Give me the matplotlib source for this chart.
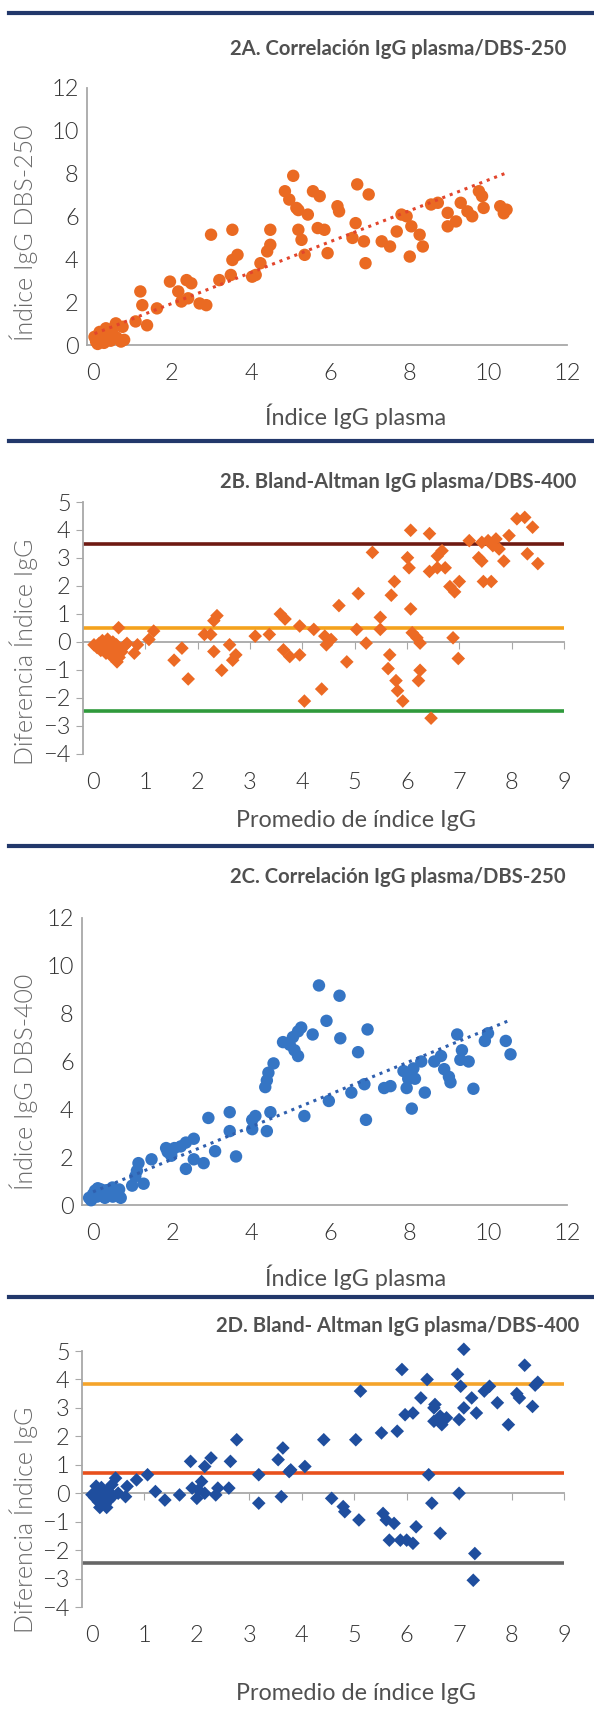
import numpy as np
import matplotlib
matplotlib.use("Agg")
import matplotlib.pyplot as plt
from matplotlib.lines import Line2D

# ---------------- data ----------------
titles = ["2A. Correlación IgG plasma/DBS-250",
          "2B. Bland-Altman IgG plasma/DBS-400",
          "2C. Correlación IgG plasma/DBS-250",
          "2D. Bland- Altman IgG plasma/DBS-400"]
xlabels = ["Índice IgG plasma", "Promedio de índice IgG",
           "Índice IgG plasma", "Promedio de índice IgG"]
ylabels = ["Índice IgG DBS-250", "Diferencia Índice IgG",
           "Índice IgG DBS-400", "Diferencia Índice IgG"]

a_x = [5.07, 4.86, 4.97, 5.15, 5.2, 5.44, 5.57, 5.74, 6.19, 6.23, 6.69, 6.98, 6.65, 5.69, 5.86, 5.2,
       5.28, 4.49, 3.53, 2.99, 4.49, 4.41, 3.66, 3.53, 4.24, 4.12, 4.03, 3.49, 3.2, 5.36, 5.94, 6.57,
       6.86, 6.9, 7.31, 7.52, 7.69, 7.81, 7.94, 8.06, 8.27, 8.35, 8.02, 8.56, 8.73, 8.98, 8.98, 9.19,
       9.31, 9.48, 9.6, 9.77, 9.85, 9.89, 10.31, 10.47, 10.4,
       1.95, 2.37, 2.49, 2.16, 2.24, 2.41, 2.7, 2.87, 1.2, 1.25, 1.62, 1.08, 1.37, 0.58, 0.75, 0.33,
       0.17, 0.04, 0.08, 0.33, 0.5, 0.71, 0.79, 0.25, 0.42, 0.12, 0.2, 0.28, 0.15, 0.38, 0.6, 0.45]
a_y = [7.9, 7.18, 6.79, 6.4, 6.3, 6.09, 7.18, 6.95, 6.48, 6.24, 7.5, 7.03, 5.69, 5.46, 5.38, 5.38,
       4.91, 5.38, 5.38, 5.15, 4.68, 4.37, 4.21, 3.97, 3.82, 3.27, 3.19, 3.27, 3.03, 4.21, 4.29, 5.0,
       4.84, 3.82, 4.84, 4.6, 5.3, 6.09, 6.01, 5.54, 5.15, 4.6, 4.13, 6.56, 6.64, 6.17, 5.54, 5.77,
       6.64, 6.24, 6.01, 7.18, 6.95, 6.4, 6.48, 6.32, 6.15,
       2.96, 3.03, 2.88, 2.5, 2.03, 2.18, 1.94, 1.86, 2.5, 1.86, 1.71, 1.1, 0.92, 1.01, 0.85, 0.78,
       0.61, 0.38, 0.16, 0.38, 0.55, 0.16, 0.24, 0.24, 0.7, 0.05, 0.45, 0.1, 0.3, 0.5, 0.35, 0.2]
a_trend = [0.72, 0.50]                 # slope, intercept of the dotted linear trend

b_x = [6.07, 6.43, 7.19, 7.43, 7.55, 7.7, 7.64, 7.76, 7.85, 7.37, 7.43, 7.46, 7.61, 5.34, 6.01, 6.04,
       6.67, 6.58, 6.43, 6.58, 6.73, 5.76, 5.7, 5.07, 4.7, 6.07, 6.82, 6.91, 7.0, 5.49, 5.49, 5.04,
       5.22, 6.1, 6.19, 6.25, 6.88, 6.98, 5.67, 5.64, 5.79, 5.82, 5.92, 6.25, 6.22, 6.46, 4.85, 4.37,
       4.04, 4.43, 4.55, 4.46, 4.22, 3.95, 3.58, 3.67, 3.64, 3.76, 3.95, 3.37, 3.1, 2.37, 2.31, 2.25,
       2.13, 2.31, 2.46, 2.61, 2.73, 2.67, 1.7, 1.55, 1.82, 1.16, 1.07, 0.85, 0.79, 0.49, 0.46,
       8.1, 8.25, 8.4, 8.3, 8.5, 7.95,
       0.02, 0.08, 0.12, 0.15, 0.2, 0.25, 0.3, 0.35, 0.4, 0.45, 0.55, 0.6, 0.18, 0.28, 0.38, 0.5, 0.65]
b_y = [3.99, 3.87, 3.62, 3.56, 3.62, 3.68, 3.44, 3.32, 2.89, 3.01, 2.89, 2.16, 2.16, 3.2, 3.01, 2.65,
       3.26, 3.07, 2.52, 2.65, 2.65, 2.16, 1.67, 1.73, 1.3, 1.18, 1.98, 1.79, 2.16, 0.88, 0.45, 0.45,
       -0.04, 0.33, 0.15, -0.04, 0.15, -0.59, -0.46, -0.95, -1.38, -1.74, -2.11, -1.01, -1.38, -2.72,
       -0.71, -1.68, -2.11, 0.21, 0.09, -0.1, 0.45, 0.57, 1.0, 0.82, -0.28, -0.52, -0.46, 0.27, 0.21,
       0.94, 0.76, 0.27, 0.27, -0.34, -1.01, -0.1, -0.46, -0.65, -0.22, -0.65, -1.32, 0.39, 0.09, -0.1,
       -0.4, 0.51, -0.71,
       4.4, 4.45, 4.1, 3.15, 2.8, 3.8,
       -0.1, -0.2, -0.05, -0.3, -0.15, -0.4, -0.2, -0.5, -0.3, -0.1, -0.35, -0.15, 0.05, 0.1, 0.0,
       -0.55, -0.05]
b_limits = [3.5, 0.51, -2.45]          # upper LoA, mean difference, lower LoA

c_x = [5.72, 6.24, 5.91, 5.27, 5.19, 5.56, 5.06, 4.81, 4.98, 5.1, 5.19, 6.26, 6.95, 6.71, 4.57, 4.44,
       4.4, 4.36, 4.49, 4.11, 4.03, 4.4, 4.03, 3.46, 3.46, 2.92, 3.09, 3.62, 5.35, 5.97, 6.54, 6.87,
       6.91, 7.37, 7.53, 7.86, 7.98, 8.11, 8.15, 8.31, 7.94, 8.4, 8.07, 8.64, 8.81, 8.89, 9.01, 9.05,
       9.22, 9.34, 9.3, 9.51, 9.63, 9.92, 10.0, 10.45, 10.57,
       2.55, 2.35, 2.22, 2.06, 1.89, 1.98, 1.85, 1.48, 1.15, 1.11, 1.07, 1.28, 0.99, 0.66, 2.35, 2.55,
       2.8, 0.49, 0.33,
       -0.1, 0.0, 0.05, 0.1, 0.15, 0.2, 0.25, 0.3, 0.4, 0.5, 0.6, 0.7, -0.05, 0.12, 0.35]
c_y = [9.18, 8.75, 7.7, 7.42, 7.26, 7.13, 7.02, 6.81, 6.7, 6.47, 6.23, 6.97, 7.34, 6.39, 5.92, 5.53,
       5.21, 4.93, 3.88, 3.72, 3.56, 3.09, 3.17, 3.88, 3.09, 3.64, 2.25, 2.03, 3.72, 4.35, 4.7, 5.05,
       3.56, 4.89, 4.97, 5.6, 5.28, 5.71, 5.28, 6.0, 4.89, 4.7, 4.03, 6.0, 6.23, 5.68, 5.36, 5.13,
       7.13, 6.47, 6.07, 6.0, 4.86, 6.86, 7.18, 6.86, 6.3,
       2.77, 2.61, 2.45, 2.38, 2.22, 2.06, 2.38, 1.91, 1.75, 1.43, 1.2, 0.89, 0.81, 0.65, 1.51, 1.91,
       1.75, 0.73, 0.57,
       0.3, 0.45, 0.6, 0.35, 0.5, 0.65, 0.4, 0.3, 0.5, 0.35, 0.45, 0.3, 0.2, 0.7, 0.62]
c_trend = [0.68, 0.55]

d_x = [7.09, 5.91, 6.39, 6.97, 7.03, 5.12, 6.27, 6.54, 6.52, 7.09, 7.24, 7.33, 7.48, 7.58, 7.73, 7.94,
       5.97, 6.12, 6.52, 6.64, 6.7, 6.76, 6.67, 7.0, 5.82, 5.52, 5.03, 4.42, 6.42, 7.0, 6.48, 6.64,
       6.18, 6.12, 6.0, 5.88, 5.67, 5.76, 5.61, 5.55, 5.09, 4.82, 4.79, 4.57, 7.3, 7.27, 4.06, 3.79,
       3.76, 3.64, 3.55, 3.61, 3.18, 3.18, 2.76, 2.64, 2.61, 2.4, 2.27, 2.15, 2.09, 1.88, 1.91, 2.03,
       2.0, 2.15, 2.36, 1.67, 1.39, 1.21, 1.06, 0.85, 0.67, 0.64, 0.45,
       8.25, 8.5, 8.45, 8.1, 8.15, 8.4,
       0.0, 0.05, 0.1, 0.12, 0.18, 0.2, 0.25, 0.3, 0.32, 0.38, 0.15, 0.4, 0.28, 0.5, 0.08]
d_y = [5.06, 4.35, 4.0, 4.18, 3.76, 3.59, 3.35, 3.12, 3.0, 3.0, 3.35, 2.82, 3.59, 3.76, 3.18, 2.41,
       2.76, 2.82, 2.53, 2.71, 2.59, 2.65, 2.41, 2.59, 2.18, 2.12, 1.88, 1.88, 0.65, 0.0, -0.35, -1.41,
       -1.18, -1.76, -1.65, -1.65, -1.65, -1.06, -0.94, -0.71, -0.94, -0.65, -0.47, -0.18, -2.12,
       -3.06, 0.94, 0.82, 0.76, 1.59, 1.18, -0.12, 0.65, -0.35, 1.88, 1.12, 0.18, 0.18, 1.24, 0.94,
       0.41, 1.12, 0.18, 0.12, -0.18, 0.0, -0.06, -0.06, -0.24, 0.06, 0.65, 0.47, 0.24, -0.12, 0.53,
       4.5, 3.9, 3.8, 3.5, 3.35, 3.05,
       -0.05, -0.15, 0.05, -0.3, 0.2, -0.1, -0.4, 0.1, -0.25, 0.3, -0.5, -0.1, -0.5, 0.0, 0.25]
d_limits = [3.85, 0.7, -2.47]

# ---------------- styling ----------------
W, H = 594, 1718
FONT = "Lato"
TICK_COLOR = "#333333"
YLABEL_COLOR = "#6a6a6a"
XLABEL_COLOR = "#505050"
TITLE_COLOR = "#505050"
AXIS_COLOR = "#a8a8a8"
NAVY = "#22386b"
TICK_SIZE = 17

fig = plt.figure(figsize=(W / 100, H / 100), dpi=100)
fig.patch.set_facecolor("white")


def rect(left, right, top, bottom):
    return [left / W, 1 - bottom / H, (right - left) / W, (bottom - top) / H]


def style_labels(labels):
    for lab in labels:
        lab.set_fontfamily(FONT)
        lab.set_fontweight(300)
        lab.set_color(TICK_COLOR)
        lab.set_fontsize(TICK_SIZE)


def style_axes(ax):
    for s in ("top", "right"):
        ax.spines[s].set_visible(False)
    for s in ("left", "bottom"):
        ax.spines[s].set_color(AXIS_COLOR)
        ax.spines[s].set_linewidth(1.3)
    ax.set_facecolor("none")
    style_labels(ax.get_xticklabels() + ax.get_yticklabels())


def panel_texts(title, xlabel, ylabel, title_y, xlabel_y, ylabel_y):
    fig.text(398 / W, 1 - title_y / H, title, ha="center", va="center",
             fontsize=14.6, fontweight="bold", color=TITLE_COLOR, family=FONT)
    fig.text(356 / W, 1 - xlabel_y / H, xlabel, ha="center", va="center",
             fontsize=16.8, color=XLABEL_COLOR, family=FONT)
    fig.text(24 / W, 1 - ylabel_y / H, ylabel, ha="center", va="center",
             rotation=90, fontsize=18, fontweight=300, color=YLABEL_COLOR, family=FONT)


def scatter_panel(ax, xs, ys, trend, color, trend_color, xlim, ylim):
    ax.scatter(xs, ys, s=80, color=color, edgecolors="none", zorder=3, clip_on=False)
    xs_arr = np.asarray(xs)
    xx = np.array([max(xs_arr.min(), 0), xs_arr.max()])
    ax.plot(xx, trend[0] * xx + trend[1], linestyle=(0, (1, 1.6)), lw=2.2,
            color=trend_color, zorder=4)
    ax.set_xlim(*xlim)
    ax.set_ylim(*ylim)
    ax.set_xticks(np.arange(0, 13, 2))
    ax.set_yticks(np.arange(0, 13, 2))
    ax.tick_params(axis="x", length=0, pad=13)
    ax.tick_params(axis="y", length=0, pad=6)
    style_axes(ax)


def ba_panel(ax, xs, ys, color, limits, line_colors, xlim):
    for val, col in zip(limits, line_colors):
        ax.axhline(val, color=col, lw=2.6, zorder=2)
    ax.scatter(xs, ys, s=48, marker="D", color=color, edgecolors="none", zorder=3,
               clip_on=False)
    ax.set_xlim(*xlim)
    ax.set_ylim(-4, 5)
    ax.spines["bottom"].set_position(("data", 0))
    ax.set_xticks(np.arange(0, 10, 1))
    ax.set_yticks(np.arange(-4, 6, 1))
    ax.tick_params(axis="x", direction="out", length=5, color=AXIS_COLOR,
                   labelbottom=False)
    ax.tick_params(axis="y", direction="out", length=5, color=AXIS_COLOR, pad=4)
    style_axes(ax)
    sec = ax.secondary_xaxis(0.0)
    sec.set_xticks(np.arange(0, 10, 1))
    sec.spines["bottom"].set_visible(False)
    sec.tick_params(length=0, pad=13)
    style_labels(sec.get_xticklabels())


# Panel A
axA = fig.add_axes(rect(87, 567, 88, 345))
scatter_panel(axA, a_x, a_y, a_trend, "#ea6a22", "#e2452c", (-0.15, 12), (0, 12))
panel_texts(titles[0], xlabels[0], ylabels[0], 49, 416, 233)

# Panel B
axB = fig.add_axes(rect(83, 564, 502, 754))
ba_panel(axB, b_x, b_y, "#ec6a24", b_limits, ["#6e1a12", "#f4a21c", "#2f9a3c"], (-0.19, 9))
panel_texts(titles[1], xlabels[1], ylabels[1], 482, 820, 652)

# Panel C
axC = fig.add_axes(rect(82, 567, 918, 1205))
scatter_panel(axC, c_x, c_y, c_trend, "#3575c4", "#2f5fae", (-0.28, 12), (0, 12))
panel_texts(titles[2], xlabels[2], ylabels[2], 877, 1277, 1082)

# Panel D
axD = fig.add_axes(rect(82, 564, 1351, 1607))
ba_panel(axD, d_x, d_y, "#1f4e9e", d_limits, ["#f5a42a", "#e8501c", "#666666"], (-0.19, 9))
panel_texts(titles[3], xlabels[3], ylabels[3], 1326, 1693, 1520)

# navy separators between panels
for y in (13, 441, 846, 1297):
    fig.add_artist(Line2D([9 / W, 1.0], [1 - y / H, 1 - y / H], color=NAVY, lw=3.0,
                          transform=fig.transFigure))

fig.savefig("out.png", dpi=100, facecolor="white")
